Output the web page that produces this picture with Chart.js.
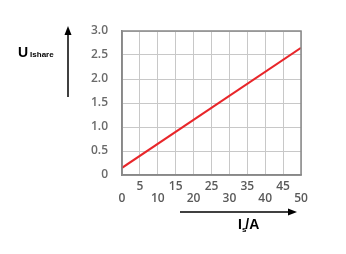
<!DOCTYPE html>
<html><head><meta charset="utf-8">
<script src="https://cdn.jsdelivr.net/npm/chart.js@4/dist/chart.umd.min.js"></script>
<style>html,body{margin:0;padding:0;background:#fff}#wrap{width:346px;height:254px}</style>
</head><body><div id="wrap"><canvas id="c" width="346" height="254"></canvas></div>
<script>
const currentA = [0, 50];
const voltage = [0.15, 2.65];
const yTicks = [0, 0.5, 1.0, 1.5, 2.0, 2.5, 3.0];
const xTicks = [0, 5, 10, 15, 20, 25, 30, 35, 40, 45, 50];
const yLabel = 'U';
const yLabelSub = 'Ishare';
const xLabel = 'I';
const xLabelSub = 's';
const xLabelUnit = '/A';

const annot = {
  id: 'annot',
  afterDraw(chart) {
    const ctx = chart.ctx;
    ctx.save();
    ctx.strokeStyle = '#000'; ctx.fillStyle = '#000'; ctx.lineWidth = 1.5;
    ctx.beginPath(); ctx.moveTo(68, 97); ctx.lineTo(68, 33); ctx.stroke();
    ctx.beginPath(); ctx.moveTo(68, 26); ctx.lineTo(64.5, 35); ctx.lineTo(71.5, 35); ctx.closePath(); ctx.fill();
    ctx.beginPath(); ctx.moveTo(180, 212); ctx.lineTo(290, 212); ctx.stroke();
    ctx.beginPath(); ctx.moveTo(297, 212); ctx.lineTo(288, 208.5); ctx.lineTo(288, 215.5); ctx.closePath(); ctx.fill();
    ctx.textBaseline = 'alphabetic'; ctx.textAlign = 'left';
    ctx.font = 'bold 14px "Liberation Sans Narrow", "Liberation Sans"';
    ctx.fillText(yLabel, 18, 57);
    const uw = ctx.measureText(yLabel).width;
    ctx.font = 'bold 8px "Liberation Sans"';
    ctx.fillText(yLabelSub, 18 + uw + 2, 57);
    ctx.font = 'bold 14px "Liberation Sans"';
    ctx.fillText(xLabel, 238, 229);
    let w = ctx.measureText(xLabel).width;
    ctx.font = 'bold 8px "Liberation Sans"';
    ctx.fillText(xLabelSub, 238 + w, 232);
    const sw = ctx.measureText(xLabelSub).width;
    ctx.font = 'bold 14px "Liberation Sans"';
    ctx.fillText(xLabelUnit, 238 + w + sw - 1, 229);
    ctx.restore();
  }
};

new Chart(document.getElementById('c'), {
  type: 'line',
  data: {
    datasets: [{
      data: currentA.map((x, i) => ({x: x, y: voltage[i]})),
      borderColor: '#e8262a', borderWidth: 2, pointRadius: 0, tension: 0, fill: false
    }]
  },
  options: {
    responsive: false, animation: false, devicePixelRatio: 1,
    layout: {padding: {left: 77, right: 45, top: 31, bottom: 43}},
    plugins: {legend: {display: false}, tooltip: {enabled: false}},
    scales: {
      x: {
        type: 'linear', min: 0, max: 50,
        afterBuildTicks: (s) => { s.ticks = xTicks.map(v => ({value: v})); },
        ticks: {
          color: '#5a5a5a', font: {family: '"Open Sans"', size: 12, weight: '600', lineHeight: 1},
          maxRotation: 0, autoSkip: false, padding: 6,
          callback: (v) => (v / 5) % 2 === 1 ? [String(v), ''] : ['', String(v)]
        },
        grid: {color: '#c8c8c8', lineWidth: 1, drawTicks: false},
        border: {color: '#888', width: 1.5}
      },
      y: {
        min: 0, max: 3,
        afterBuildTicks: (s) => { s.ticks = yTicks.map(v => ({value: v})); },
        ticks: {
          color: '#6a6a6a', font: {family: '"Open Sans"', size: 12, weight: '600'}, padding: 14,
          callback: (v) => v === 0 ? '0' : v.toFixed(1)
        },
        grid: {color: '#c8c8c8', lineWidth: 1, drawTicks: false},
        border: {color: '#888', width: 1.5}
      }
    }
  },
  plugins: [annot, {
    id: 'frame',
    afterDatasetsDraw(chart) {
      const a = chart.chartArea, ctx = chart.ctx;
      ctx.save(); ctx.strokeStyle = '#888'; ctx.lineWidth = 1.5;
      ctx.strokeRect(a.left, a.top, a.right - a.left, a.bottom - a.top);
      ctx.restore();
    }
  }]
});
</script></body></html>
